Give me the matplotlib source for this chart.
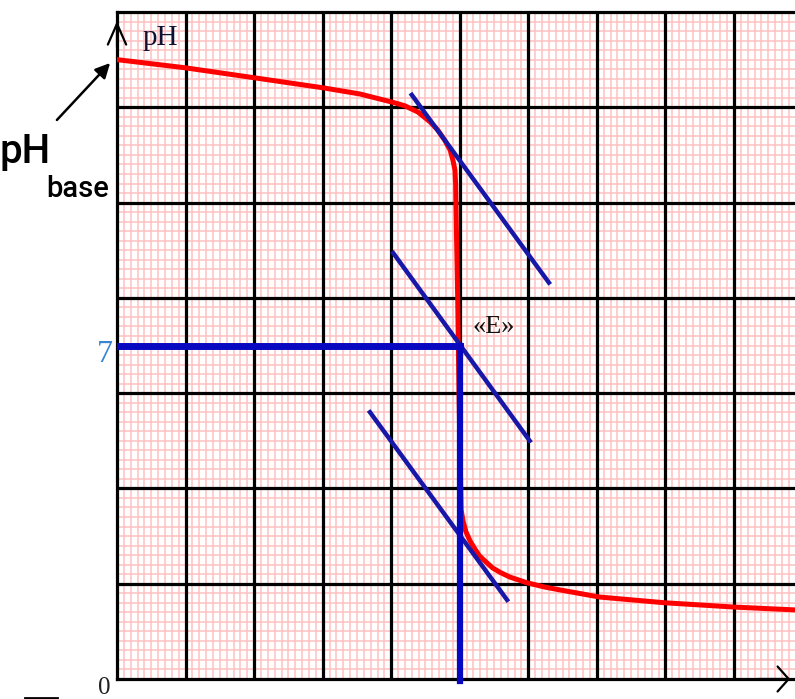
import matplotlib
matplotlib.use("Agg")
import matplotlib.pyplot as plt
import numpy as np
from matplotlib.lines import Line2D

# courbe de titrage (volume en divisions, pH)
vol = [0.0, 0.99, 2.0, 3.0, 3.54, 4.01, 4.20, 4.39, 4.57, 4.68, 4.78, 4.86, 4.90, 4.93,
       4.94, 4.95, 4.97, 4.99, 5.02, 5.05, 5.09, 5.15, 5.22, 5.29, 5.38, 5.48, 5.60,
       5.73, 5.98, 6.24, 6.46, 7.04, 7.99, 9.0, 9.89]
ph = [13.0, 12.83, 12.62, 12.41, 12.28, 12.11, 12.03, 11.90, 11.69, 11.52, 11.31, 11.10,
      10.89, 10.68, 10.37, 9.5, 7.96, 5.86, 3.55, 3.30, 3.09, 2.90, 2.73, 2.58, 2.46,
      2.33, 2.23, 2.14, 2.02, 1.93, 1.87, 1.72, 1.60, 1.51, 1.45]

# tangentes paralleles (x debut, x fin), (pH debut, pH fin)
tan_up_x, tan_up_y = [4.30, 6.30], [12.26, 8.32]
tan_mid_x, tan_mid_y = [4.03, 6.02], [8.94, 5.00]
tan_low_x, tan_low_y = [3.69, 5.69], [5.60, 1.66]

# point d'equivalence
v_eq = 5.0
ph_eq = 7.0

serif = ["Liberation Serif", "DejaVu Serif"]
sans = ["Roboto", "DejaVu Sans"]

fig = plt.figure(figsize=(7.95, 6.99), dpi=100)
ax = fig.add_axes([117 / 795, 20 / 699, 678 / 795, 667 / 699])
xmax, ymax = 9.89, 14
ax.set_xlim(0, xmax)
ax.set_ylim(0, ymax)

# papier millimetre
ax.vlines(np.arange(0, xmax, 0.1), 0, ymax, color="#ffc0c0", lw=1.1, zorder=0)
ax.hlines(np.arange(0, ymax, 0.2), 0, xmax, color="#ffc0c0", lw=1.1, zorder=0)
ax.vlines(np.arange(1, xmax, 1), 0, ymax, color="black", lw=2.3, zorder=1)
ax.hlines(np.arange(2, ymax, 2), 0, xmax, color="black", lw=2.3, zorder=1)
ax.set_xticks([])
ax.set_yticks([])
for s in ["left", "bottom", "top"]:
    ax.spines[s].set_linewidth(2.3)
ax.spines["right"].set_visible(False)

# courbe
ax.plot(vol, ph, color="#ff0000", lw=3.6, solid_capstyle="round", solid_joinstyle="round",
        zorder=3)

# tangentes
for tx, ty in [(tan_up_x, tan_up_y), (tan_mid_x, tan_mid_y), (tan_low_x, tan_low_y)]:
    ax.plot(tx, ty, color="#1818a8", lw=3.2, zorder=4)

# lignes de l'equivalence
ax.plot([0, v_eq], [ph_eq, ph_eq], color="#0808c0", lw=5.0, zorder=5)
ax.plot([v_eq, v_eq], [ph_eq, -0.05], color="#0808c0", lw=4.5, zorder=5, clip_on=False)

# fleches des axes
ax.annotate("", xy=(0, 13.87), xytext=(0, 13.2),
            arrowprops=dict(arrowstyle="->,head_length=0.75,head_width=0.33",
                            mutation_scale=20, lw=1.6, color="black"))
ax.annotate("", xy=(9.86, 0), xytext=(9.3, 0), annotation_clip=False,
            arrowprops=dict(arrowstyle="->,head_length=0.4,head_width=0.45",
                            mutation_scale=20, lw=1.6, color="black"))

# textes
ax.text(0.37, 13.31, "pH", family=serif, fontsize=21, color="#101030", va="baseline", zorder=6)
ax.text(5.18, 7.26, "«E»", family=serif, fontsize=19, color="#101010", va="baseline", zorder=6)
ax.text(-0.06, 6.65, "7", family=serif, fontsize=23, color="#3585d0", ha="right", va="baseline",
        clip_on=False)
ax.text(-0.1, -0.31, "0", family=serif, fontsize=18, color="#202020", ha="right", va="baseline",
        clip_on=False)

fig.text(0 / 795, 1 - 163 / 699, "pH", family=sans, fontsize=29, weight="medium",
         color="black", va="baseline")
fig.text(46 / 795, 1 - 197 / 699, "base", family=sans, fontsize=21, weight="medium",
         color="black", va="baseline")
ax.annotate("", xy=(112, 699 - 61), xycoords="figure pixels",
            xytext=(55, 699 - 122), textcoords="figure pixels",
            arrowprops=dict(arrowstyle="-|>", mutation_scale=22, lw=1.8, color="black"))

fig.add_artist(Line2D([25 / 795, 57 / 795], [1.5 / 699, 1.5 / 699], color="black", lw=2))

fig.savefig("out.png", dpi=100)
